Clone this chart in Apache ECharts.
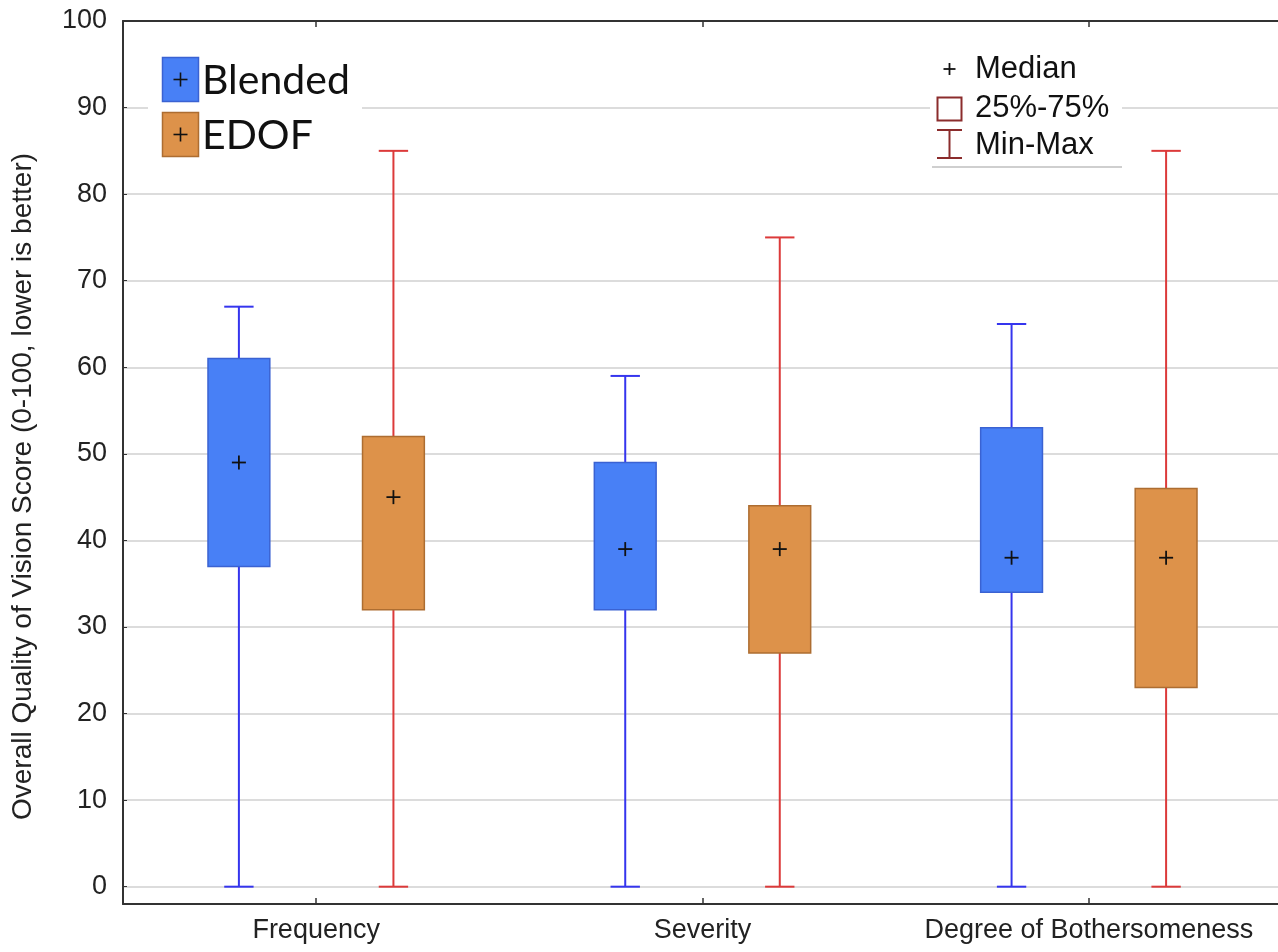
<!DOCTYPE html>
<html>
<head>
<meta charset="utf-8">
<script src="https://cdn.jsdelivr.net/npm/echarts@6/dist/echarts.min.js"></script>
<style>
html,body{margin:0;padding:0;background:#fff;}
#chart{width:1278px;height:952px;}
</style>
</head>
<body>
<div id="chart"></div>
<script>
const categories = ['Frequency', 'Severity', 'Degree of Bothersomeness'];
const yTicks = [0, 10, 20, 30, 40, 50, 60, 70, 80, 90, 100];

const blendedMin = [0, 0, 0];
const blendedQ1 = [37, 32, 34];
const blendedMedian = [49, 39, 38];
const blendedQ3 = [61, 49, 53];
const blendedMax = [67, 59, 65];

const edofMin = [0, 0, 0];
const edofQ1 = [32, 27, 23];
const edofMedian = [45, 39, 38];
const edofQ3 = [52, 44, 46];
const edofMax = [85, 75, 85];

const seriesNames = ['Blended', 'EDOF'];

const C = {
  blueFill: '#4880f6', blueBorder: '#3a62d2', blueWhisker: '#3535ee',
  orgFill: '#dd924a', orgBorder: '#ad6d31', orgWhisker: '#dc3a3a',
  legendRed: '#8b2c2c', axis: '#333', grid: '#dcdcdc', text: '#222'
};

function buildData(mins, q1s, meds, q3s, maxs) {
  return categories.map((c, i) => [i, mins[i], q1s[i], meds[i], q3s[i], maxs[i]]);
}

function makeRender(side, fill, border, whisker) {
  return function (params, api) {
    const xi = api.value(0);
    const band = api.size([1, 0])[0];
    const off = side * 0.2 * band;
    const boxW = 0.16 * band;
    const capW = 0.076 * band;
    const pMin = api.coord([xi, api.value(1)]);
    const pQ1 = api.coord([xi, api.value(2)]);
    const pMed = api.coord([xi, api.value(3)]);
    const pQ3 = api.coord([xi, api.value(4)]);
    const pMax = api.coord([xi, api.value(5)]);
    const cx = pMin[0] + off;
    const ls = { stroke: whisker, lineWidth: 2 };
    const m = 7;
    return {
      type: 'group',
      children: [
        { type: 'line', shape: { x1: cx, y1: pMin[1], x2: cx, y2: pMax[1] }, style: ls },
        { type: 'line', shape: { x1: cx - capW / 2, y1: pMin[1], x2: cx + capW / 2, y2: pMin[1] }, style: ls },
        { type: 'line', shape: { x1: cx - capW / 2, y1: pMax[1], x2: cx + capW / 2, y2: pMax[1] }, style: ls },
        { type: 'rect', shape: { x: cx - boxW / 2, y: pQ3[1], width: boxW, height: pQ1[1] - pQ3[1] },
          style: { fill: fill, stroke: border, lineWidth: 1.5 } },
        { type: 'line', shape: { x1: cx - m, y1: pMed[1], x2: cx + m, y2: pMed[1] }, style: { stroke: '#111', lineWidth: 1.8 } },
        { type: 'line', shape: { x1: cx, y1: pMed[1] - m, x2: cx, y2: pMed[1] + m }, style: { stroke: '#111', lineWidth: 1.8 } }
      ]
    };
  };
}

const chart = echarts.init(document.getElementById('chart'), null, { renderer: 'canvas' });

const plus = (cx, cy, r, w) => ([
  { type: 'line', shape: { x1: cx - r, y1: cy, x2: cx + r, y2: cy }, style: { stroke: '#111', lineWidth: w }, z: 10 },
  { type: 'line', shape: { x1: cx, y1: cy - r, x2: cx, y2: cy + r }, style: { stroke: '#111', lineWidth: w }, z: 10 }
]);

const graphics = [
  // left legend
  { type: 'rect', shape: { x: 148, y: 50, width: 214, height: 115 }, style: { fill: '#fff' }, z: 5 },
  { type: 'rect', shape: { x: 162.5, y: 57.5, width: 36, height: 44 }, style: { fill: C.blueFill, stroke: C.blueBorder, lineWidth: 1.5 }, z: 6 },
  { type: 'rect', shape: { x: 162.5, y: 112.5, width: 36, height: 44 }, style: { fill: C.orgFill, stroke: C.orgBorder, lineWidth: 1.5 }, z: 6 },
  ...plus(180.5, 79.5, 7, 1.6),
  ...plus(180.5, 134.5, 7, 1.6),
  { type: 'text', x: 202, y: 81, style: { text: seriesNames[0], font: '41px Lato', fill: '#111', textAlign: 'left', textVerticalAlign: 'middle' }, z: 10 },
  { type: 'text', x: 202, y: 136, style: { text: seriesNames[1], font: '41px Lato', fill: '#111', textAlign: 'left', textVerticalAlign: 'middle' }, z: 10 },
  // right legend
  { type: 'rect', shape: { x: 930, y: 50, width: 192, height: 116 }, style: { fill: '#fff' }, z: 5 },
  { type: 'line', shape: { x1: 932, y1: 167, x2: 1122, y2: 167 }, style: { stroke: '#cfcfcf', lineWidth: 2 }, z: 6 },
  ...plus(949.5, 69, 6, 1.8),
  { type: 'rect', shape: { x: 937.5, y: 97.5, width: 24, height: 23 }, style: { fill: '#fff', stroke: C.legendRed, lineWidth: 2 }, z: 6 },
  { type: 'line', shape: { x1: 949.5, y1: 130, x2: 949.5, y2: 158 }, style: { stroke: C.legendRed, lineWidth: 2 }, z: 6 },
  { type: 'line', shape: { x1: 937, y1: 130, x2: 962, y2: 130 }, style: { stroke: C.legendRed, lineWidth: 2 }, z: 6 },
  { type: 'line', shape: { x1: 937, y1: 158, x2: 962, y2: 158 }, style: { stroke: C.legendRed, lineWidth: 2 }, z: 6 },
  { type: 'text', x: 975, y: 69, style: { text: 'Median', font: '31px "Liberation Sans"', fill: '#111', textAlign: 'left', textVerticalAlign: 'middle' }, z: 10 },
  { type: 'text', x: 975, y: 108, style: { text: '25%-75%', font: '31px "Liberation Sans"', fill: '#111', textAlign: 'left', textVerticalAlign: 'middle' }, z: 10 },
  { type: 'text', x: 975, y: 145, style: { text: 'Min-Max', font: '31px "Liberation Sans"', fill: '#111', textAlign: 'left', textVerticalAlign: 'middle' }, z: 10 }
];

const option = {
  backgroundColor: '#fff',
  animation: false,
  grid: { left: 123, top: 21, right: -4, bottom: 48, containLabel: false, outerBoundsMode: 'none' },
  xAxis: [
    {
      type: 'category', data: categories, position: 'bottom', boundaryGap: true,
      axisLine: { show: true, onZero: false, lineStyle: { color: C.axis, width: 2 } },
      axisTick: { show: true, alignWithLabel: true, inside: true, length: 6, lineStyle: { color: C.axis, width: 1.5 } },
      axisLabel: { interval: 0, fontSize: 27, fontFamily: 'Liberation Sans', color: C.text, margin: 13 },
      splitLine: { show: false }
    },
    {
      type: 'category', data: categories, position: 'top', boundaryGap: true,
      axisLine: { show: true, onZero: false, lineStyle: { color: C.axis, width: 2 } },
      axisTick: { show: true, alignWithLabel: true, inside: true, length: 6, lineStyle: { color: C.axis, width: 1.5 } },
      axisLabel: { show: false },
      splitLine: { show: false }
    }
  ],
  yAxis: {
    type: 'value', min: -2, max: 100,
    name: 'Overall Quality of Vision Score (0-100, lower is better)',
    nameLocation: 'middle', nameRotate: 90, nameGap: 86,
    nameTextStyle: { fontSize: 28, fontFamily: 'Liberation Sans', color: C.text, padding: [0, 48, 0, 0] },
    axisLine: { show: true, lineStyle: { color: C.axis, width: 2 } },
    axisTick: { show: true, inside: true, length: 4, customValues: yTicks, lineStyle: { color: C.axis } },
    axisLabel: { fontSize: 27, fontFamily: 'Liberation Sans', color: C.text, margin: 16, customValues: yTicks },
    splitLine: { show: true, lineStyle: { color: C.grid, width: 2 } }
  },
  graphic: graphics,
  series: [
    {
      name: seriesNames[0], type: 'custom', xAxisIndex: 0,
      renderItem: makeRender(-1, C.blueFill, C.blueBorder, C.blueWhisker),
      encode: { x: 0, y: [1, 2, 3, 4, 5] },
      data: buildData(blendedMin, blendedQ1, blendedMedian, blendedQ3, blendedMax), z: 3
    },
    {
      name: seriesNames[1], type: 'custom', xAxisIndex: 0,
      renderItem: makeRender(1, C.orgFill, C.orgBorder, C.orgWhisker),
      encode: { x: 0, y: [1, 2, 3, 4, 5] },
      data: buildData(edofMin, edofQ1, edofMedian, edofQ3, edofMax), z: 3
    }
  ]
};
chart.setOption(option);
</script>
</body>
</html>
